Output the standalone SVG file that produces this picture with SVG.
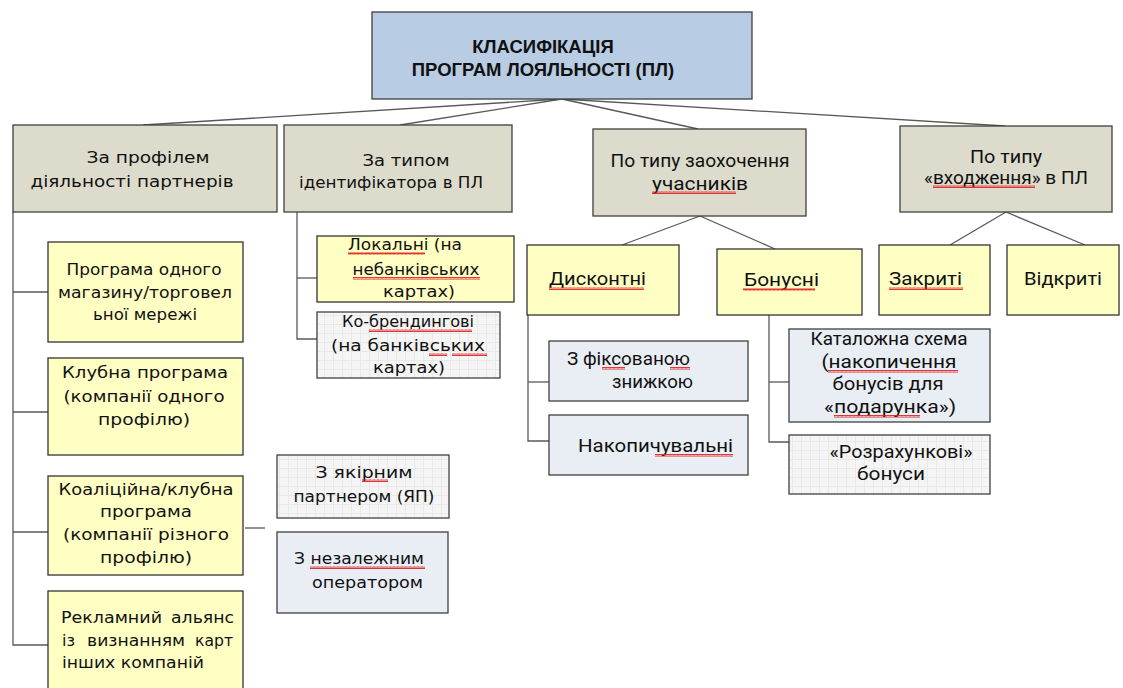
<svg xmlns="http://www.w3.org/2000/svg" width="1123" height="688" viewBox="0 0 1123 688">
<defs>
<pattern id="sq" width="4" height="3" patternUnits="userSpaceOnUse">
<path d="M0 2.6 L1 0.4 L2 2.6 L3 0.4 L4 2.6" fill="none" stroke="#e02020" stroke-width="0.9"/>
</pattern>
<pattern id="grid" width="9" height="9" patternUnits="userSpaceOnUse">
<rect width="9" height="9" fill="#f5f5f5"/>
<path d="M0 0.5 H9 M0.5 0 V9" stroke="#e9e9e9" stroke-width="1"/>
</pattern>
<style>
.title{fill:#b8cce4;stroke:#3f3f3f;stroke-width:1.3}
.cat{fill:#dddccc;stroke:#3f3f3f;stroke-width:1.3}
.yel{fill:#ffffc4;stroke:#333;stroke-width:1.3}
.blu{fill:#e9edf4;stroke:#3f3f3f;stroke-width:1.3}
.grd{fill:url(#grid);stroke:#3f3f3f;stroke-width:1.3}
text{fill:#111}
.tt{font-family:"Liberation Sans",Arial,sans-serif;font-weight:bold;font-size:18.5px;text-anchor:middle}
.dv{font-family:"DejaVu Sans",Verdana,sans-serif;font-size:16.5px}
.rb{font-family:Roboto,"Liberation Sans",sans-serif;font-size:18.5px}
.c{text-anchor:middle}
.e{text-anchor:end}
.sq{fill:url(#sq)}
#connectors line,#connectors polyline{stroke:#595959;stroke-width:1.3;fill:none}
</style>
</defs>
<rect width="1123" height="688" fill="#ffffff"/>

<g id="connectors">
<line x1="562" y1="99" x2="143" y2="125"/>
<line x1="562" y1="99" x2="400" y2="125"/>
<line x1="562" y1="99" x2="698" y2="129"/>
<line x1="562" y1="99" x2="1005" y2="126"/>
<polyline points="13,212 13,645 48,645"/>
<line x1="13" y1="292" x2="48" y2="292"/>
<line x1="13" y1="412" x2="48" y2="412"/>
<line x1="13" y1="532" x2="48" y2="532"/>
<polyline points="297,212 297,339 317,339"/>
<line x1="297" y1="278" x2="317" y2="278"/>
<line x1="245" y1="528" x2="265" y2="528"/>
<line x1="700" y1="216" x2="622" y2="245"/>
<line x1="700" y1="216" x2="775" y2="249"/>
<polyline points="528,315 528,441 549,441"/>
<line x1="528" y1="382" x2="549" y2="382"/>
<polyline points="769,315 769,442 790,442"/>
<line x1="769" y1="382" x2="790" y2="382"/>
<line x1="1006" y1="212" x2="950" y2="245"/>
<line x1="1006" y1="212" x2="1085" y2="245"/>
</g>

<g id="title">
<rect class="title" x="372" y="12" width="380" height="87"/>
<text class="tt" x="543" y="53">КЛАСИФІКАЦІЯ</text>
<text class="tt" x="543" y="76">ПРОГРАМ ЛОЯЛЬНОСТІ (ПЛ)</text>
</g>

<g id="cat-profile">
<rect class="cat" x="13" y="125" width="264" height="87"/>
<text class="dv c" x="148" y="163" textLength="123" lengthAdjust="spacingAndGlyphs">За профілем</text>
<text class="dv c" x="132" y="187" textLength="203" lengthAdjust="spacingAndGlyphs">діяльності партнерів</text>
</g>

<g id="cat-identifier">
<rect class="cat" x="284" y="125" width="228" height="87"/>
<text class="dv c" x="406" y="166" textLength="87" lengthAdjust="spacingAndGlyphs">За типом</text>
<text class="dv c" x="391" y="188" textLength="184" lengthAdjust="spacingAndGlyphs">ідентифікатора в ПЛ</text>
</g>

<g id="cat-reward">
<rect class="cat" x="593" y="129" width="213" height="87"/>
<text class="rb c" x="700" y="167" textLength="179" lengthAdjust="spacingAndGlyphs">По типу заохочення</text>
<text class="rb c" x="700" y="190" textLength="96" lengthAdjust="spacingAndGlyphs">учасників</text>
<rect class="sq" x="652" y="191" width="84" height="3"/>
</g>

<g id="cat-entry">
<rect class="cat" x="900" y="126" width="212" height="86"/>
<text class="rb c" x="1006" y="163" textLength="72" lengthAdjust="spacingAndGlyphs">По типу</text>
<text class="rb c" x="1006" y="184" textLength="164" lengthAdjust="spacingAndGlyphs">«входження» в ПЛ</text>
<rect class="sq" x="933" y="185" width="102" height="3"/>
</g>

<g id="single-store">
<rect class="yel" x="48" y="242" width="195" height="100"/>
<text class="dv c" x="144" y="275" textLength="155" lengthAdjust="spacingAndGlyphs">Програма одного</text>
<text class="dv c" x="145" y="298" textLength="174" lengthAdjust="spacingAndGlyphs">магазину/торговел</text>
<text class="dv c" x="145" y="320" textLength="104" lengthAdjust="spacingAndGlyphs">ьної мережі</text>
</g>

<g id="club">
<rect class="yel" x="48" y="358" width="195" height="97"/>
<text class="dv c" x="145" y="378" textLength="166" lengthAdjust="spacingAndGlyphs">Клубна програма</text>
<text class="dv c" x="144" y="402" textLength="161" lengthAdjust="spacingAndGlyphs">(компанії одного</text>
<text class="dv c" x="144" y="425" textLength="92" lengthAdjust="spacingAndGlyphs">профілю)</text>
</g>

<g id="coalition">
<rect class="yel" x="48" y="476" width="195" height="99"/>
<text class="dv c" x="146" y="495" textLength="175" lengthAdjust="spacingAndGlyphs">Коаліційна/клубна</text>
<text class="dv c" x="146" y="517" textLength="92" lengthAdjust="spacingAndGlyphs">програма</text>
<text class="dv c" x="146" y="540" textLength="166" lengthAdjust="spacingAndGlyphs">(компанії різного</text>
<text class="dv c" x="146" y="563" textLength="92" lengthAdjust="spacingAndGlyphs">профілю)</text>
</g>

<g id="ad-alliance">
<rect class="yel" x="48" y="591" width="195" height="100"/>
<text class="dv" x="61" y="623" textLength="101" lengthAdjust="spacingAndGlyphs">Рекламний</text>
<text class="dv e" x="234" y="623" textLength="63" lengthAdjust="spacingAndGlyphs">альянс</text>
<text class="dv" x="62" y="646" textLength="13" lengthAdjust="spacingAndGlyphs">із</text>
<text class="dv" x="87" y="646" textLength="98" lengthAdjust="spacingAndGlyphs">визнанням</text>
<text class="dv e" x="233" y="646" textLength="38" lengthAdjust="spacingAndGlyphs">карт</text>
<text class="dv" x="62" y="668" textLength="142" lengthAdjust="spacingAndGlyphs">інших компаній</text>
</g>

<g id="local">
<rect class="yel" x="317" y="236" width="197" height="66"/>
<text class="dv c" x="405" y="250" textLength="114" lengthAdjust="spacingAndGlyphs">Локальні (на</text>
<text class="dv c" x="416" y="275" textLength="127" lengthAdjust="spacingAndGlyphs">небанківських</text>
<text class="dv c" x="419" y="297" textLength="72" lengthAdjust="spacingAndGlyphs">картах)</text>
<rect class="sq" x="348" y="252" width="77" height="3"/>
<rect class="sq" x="353" y="277" width="127" height="3"/>
</g>

<g id="cobrand">
<rect class="grd" x="317" y="312" width="183" height="66"/>
<text class="dv c" x="408" y="327" textLength="132" lengthAdjust="spacingAndGlyphs">Ко-брендингові</text>
<text class="dv c" x="408" y="351" textLength="154" lengthAdjust="spacingAndGlyphs">(на банківських</text>
<text class="dv c" x="409" y="373" textLength="72" lengthAdjust="spacingAndGlyphs">картах)</text>
<rect class="sq" x="369" y="329" width="103" height="3"/>
<rect class="sq" x="429" y="353" width="18" height="3"/>
<rect class="sq" x="452" y="353" width="35" height="3"/>
</g>

<g id="anchor-partner">
<rect class="grd" x="277" y="455" width="172" height="63"/>
<text class="dv c" x="364" y="478" textLength="97" lengthAdjust="spacingAndGlyphs">З якірним</text>
<text class="dv c" x="364" y="502" textLength="141" lengthAdjust="spacingAndGlyphs">партнером (ЯП)</text>
<rect class="sq" x="362" y="479" width="26" height="3"/>
</g>

<g id="independent-operator">
<rect class="blu" x="277" y="532" width="171" height="81"/>
<text class="dv" x="294" y="564" textLength="130" lengthAdjust="spacingAndGlyphs">З незалежним</text>
<text class="dv" x="312" y="588" textLength="111" lengthAdjust="spacingAndGlyphs">оператором</text>
<rect class="sq" x="310" y="566" width="115" height="3"/>
</g>

<g id="discount">
<rect class="yel" x="527" y="245" width="152" height="70"/>
<text class="rb" x="549" y="285" textLength="97" lengthAdjust="spacingAndGlyphs">Дисконтні</text>
<rect class="sq" x="549" y="287" width="95" height="3"/>
</g>

<g id="bonus">
<rect class="yel" x="717" y="249" width="145" height="66"/>
<text class="rb" x="744" y="286" textLength="75" lengthAdjust="spacingAndGlyphs">Бонусні</text>
<rect class="sq" x="743" y="288" width="72" height="3"/>
</g>

<g id="closed">
<rect class="yel" x="879" y="245" width="111" height="70"/>
<text class="rb" x="889" y="285" textLength="73" lengthAdjust="spacingAndGlyphs">Закриті</text>
<rect class="sq" x="889" y="287" width="74" height="3"/>
</g>

<g id="open">
<rect class="yel" x="1007" y="245" width="112" height="70"/>
<text class="rb" x="1024" y="285" textLength="78" lengthAdjust="spacingAndGlyphs">Відкриті</text>
</g>

<g id="fixed-discount">
<rect class="blu" x="549" y="341" width="199" height="60"/>
<text class="rb" x="567" y="365" textLength="123" lengthAdjust="spacingAndGlyphs">З фіксованою</text>
<text class="rb" x="612" y="388" textLength="81" lengthAdjust="spacingAndGlyphs">знижкою</text>
<rect class="sq" x="602" y="367" width="23" height="3"/>
<rect class="sq" x="670" y="367" width="20" height="3"/>
</g>

<g id="cumulative">
<rect class="blu" x="549" y="415" width="199" height="60"/>
<text class="rb" x="578" y="452" textLength="155" lengthAdjust="spacingAndGlyphs">Накопичувальні</text>
<rect class="sq" x="655" y="454" width="78" height="3"/>
</g>

<g id="catalog">
<rect class="blu" x="789" y="329" width="201" height="93"/>
<text class="rb c" x="889" y="345" textLength="157" lengthAdjust="spacingAndGlyphs">Каталожна схема</text>
<text class="rb c" x="889" y="368" textLength="135" lengthAdjust="spacingAndGlyphs">(накопичення</text>
<text class="rb c" x="888" y="390" textLength="111" lengthAdjust="spacingAndGlyphs">бонусів для</text>
<text class="rb c" x="890" y="413" textLength="132" lengthAdjust="spacingAndGlyphs">«подарунка»)</text>
<rect class="sq" x="828" y="370" width="130" height="3"/>
<rect class="sq" x="834" y="415" width="86" height="3"/>
</g>

<g id="settlement">
<rect class="grd" x="789" y="435" width="201" height="59"/>
<text class="rb c" x="901" y="458" textLength="143" lengthAdjust="spacingAndGlyphs">«Розрахункові»</text>
<text class="rb c" x="891" y="480" textLength="68" lengthAdjust="spacingAndGlyphs">бонуси</text>
</g>
</svg>
